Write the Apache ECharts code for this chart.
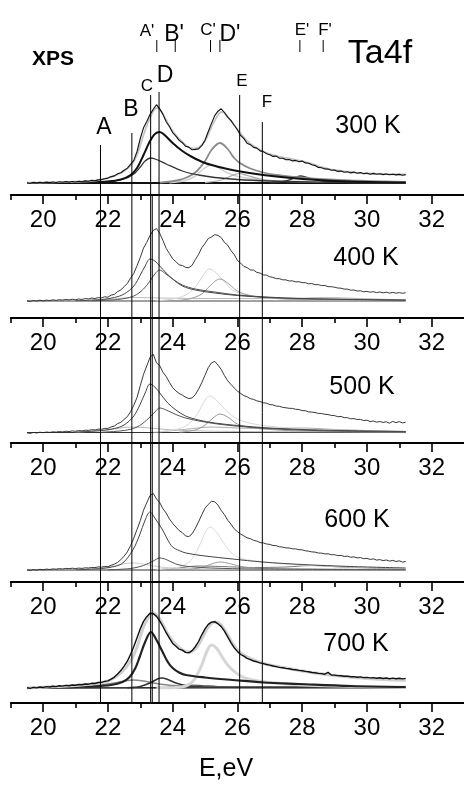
<!DOCTYPE html>
<html>
<head>
<meta charset="utf-8">
<title>XPS Ta4f</title>
<script src="https://cdn.jsdelivr.net/npm/echarts@6/dist/echarts.min.js"></script>
<style>
html,body{margin:0;padding:0;background:#fff}
#chart{width:464px;height:785px}
</style>
</head>
<body>
<div id="chart"></div>
<script>
// measured spectra, 0.1 eV steps from 19.5 eV, height above each panel axis
var eStart = 19.5, eStep = 0.1;
var raw300 = [12.3,11.8,12.6,12.1,12.8,
  12.2,12.9,12.4,13.0,12.5,13.2,12.7,13.4,12.9,13.5,
  13.0,13.8,13.3,14.1,13.7,14.6,14.2,15.1,15.4,16.3,
  16.9,18.4,19.1,21.2,22.3,24.8,26.9,30.7,34.6,43.5,
  56.5,67.2,73.6,80.4,85.7,90.3,86.1,80.6,73.2,68.5,
  62.4,58.9,54.6,52.3,48.7,47.9,45.2,45.6,46.1,49.4,
  54.7,63.5,71.6,79.4,83.8,86.2,82.5,77.9,74.6,69.8,
  65.3,59.6,56.4,51.7,50.3,47.6,46.9,44.1,43.4,41.2,
  40.3,38.6,38.9,36.8,36.7,35.2,35.4,34.1,34.6,33.2,
  33.9,32.1,31.8,30.2,29.4,27.6,27.3,26.1,25.9,24.7,
  24.9,23.6,23.9,22.8,23.3,22.1,22.9,21.7,22.4,21.3,
  21.9,20.8,21.6,20.7,21.2,20.4,21.0,20.2,20.8,20.1,
  20.6,19.8,20.4];
var raw400 = [17.2,16.6,17.5,17.0,17.8,
  17.1,17.9,17.4,18.2,17.6,18.3,17.9,18.6,18.1,18.8,
  18.3,19.0,18.6,19.4,19.1,19.9,19.5,20.4,20.1,21.2,
  20.8,22.9,23.6,26.4,28.1,31.3,34.6,39.9,44.6,52.4,
  60.6,69.9,75.7,82.4,87.6,89.4,84.7,77.5,69.6,64.4,
  59.1,56.4,53.1,52.5,50.6,50.3,52.7,58.4,63.6,70.3,
  74.6,79.5,81.1,83.4,82.6,80.4,75.6,72.8,67.5,63.4,
  57.6,54.9,51.6,50.4,48.1,47.9,45.6,44.9,43.1,42.8,
  41.2,40.6,39.4,39.3,38.2,38.1,37.0,37.2,36.1,36.3,
  35.4,35.3,34.2,34.4,33.3,33.4,32.4,32.5,31.4,31.3,
  30.8,30.0,29.8,28.9,28.9,27.8,28.0,27.0,27.2,26.2,
  26.6,25.8,26.3,25.4,26.0,25.2,25.8,24.9,25.6,24.8,
  25.4,24.7,25.3];
var raw500 = [10.2,9.6,10.5,10.0,10.8,
  10.3,11.0,10.6,11.2,10.9,11.5,11.1,11.8,11.4,12.1,
  11.7,12.4,12.1,12.8,12.6,13.3,13.0,13.9,13.7,14.6,
  14.6,16.1,17.0,19.4,20.7,23.6,26.4,31.2,37.8,45.6,
  57.4,68.6,77.1,85.6,88.9,80.2,77.4,70.8,66.5,60.6,
  55.3,52.1,49.6,47.9,45.8,44.4,45.1,48.3,53.7,60.4,
  67.8,75.4,80.1,81.6,77.9,73.6,67.4,62.3,58.6,55.1,
  51.9,49.6,47.4,46.2,44.3,43.6,42.1,41.5,40.2,39.8,
  38.4,38.1,36.9,36.7,35.6,35.2,34.7,34.6,33.7,33.5,
  32.4,32.3,31.1,30.9,30.4,29.6,29.5,28.7,28.4,27.6,
  27.4,26.3,26.5,25.4,25.3,24.2,24.4,23.5,23.6,22.4,
  22.8,21.5,22.0,20.9,21.4,20.6,21.2,19.8,21.6,20.3,
  21.4,20.1,20.8];
var raw600 = [12.1,11.6,12.4,11.9,12.7,
  12.2,12.9,12.5,13.1,12.8,13.4,13.0,13.6,13.3,13.8,
  13.4,13.9,13.6,14.2,14.0,14.5,14.4,15.1,14.9,15.6,
  15.2,16.8,17.9,19.6,22.4,25.8,30.1,36.4,43.9,52.6,
  61.4,71.8,79.2,86.5,88.6,83.1,79.4,73.2,68.9,63.1,
  58.6,55.0,51.4,49.3,46.0,45.4,48.2,53.6,60.1,67.3,
  73.8,77.6,80.8,80.2,76.9,71.6,67.3,61.8,57.9,53.2,
  50.4,47.9,46.1,44.2,43.3,41.7,40.9,39.4,39.1,38.0,
  37.6,36.5,36.3,35.2,34.9,34.1,34.0,33.2,33.1,32.3,
  32.2,31.2,30.8,30.1,29.9,29.0,28.9,28.1,28.2,27.3,
  27.3,26.4,26.6,25.6,25.8,24.8,25.1,24.1,24.4,23.3,
  23.6,22.6,23.1,21.9,22.4,21.4,22.0,20.9,21.6,20.5,
  21.2,19.9,20.6];
var raw700 = [15.3,14.6,15.6,15.1,16.0,
  15.5,16.4,16.0,16.8,16.4,17.2,16.9,17.6,17.3,18.0,
  17.7,18.5,18.2,19.0,18.8,19.7,19.5,20.5,20.6,21.6,
  22.1,23.8,25.9,29.0,32.4,36.9,41.8,48.6,56.4,65.3,
  74.2,81.6,86.3,89.8,89.4,86.6,82.1,76.5,70.3,64.8,
  59.6,56.7,53.8,52.9,50.6,50.2,52.4,56.3,61.5,68.2,
  74.1,78.6,80.9,81.3,79.2,76.4,71.8,66.1,60.4,55.3,
  51.6,48.5,46.8,44.6,43.4,42.0,41.2,40.1,39.4,38.5,
  37.9,37.0,36.4,35.6,35.3,34.6,34.2,33.5,33.2,32.6,
  32.2,31.6,31.2,30.5,30.3,29.6,29.4,28.8,30.6,28.0,
  27.9,27.4,27.3,26.8,26.9,26.3,26.4,25.8,26.1,25.4,
  25.6,25.1,25.4,24.8,25.2,24.5,25.0,24.3,24.9,24.2,
  24.7,24.1,24.6];

// fitted envelopes [E, h]
var fit300 = [[19.5,12.3],[20.5,12.8],[21.5,14],[22,16.8],[22.4,22],[22.7,29],[22.9,40],[23.1,60],[23.3,77],[23.5,87],[23.6,86],[23.8,75],[24,64],[24.3,53],[24.6,46.5],[24.8,47.5],[25,54],[25.2,68],[25.4,80],[25.5,83],[25.6,82],[25.8,74],[26,66],[26.3,54],[26.6,47],[27,41],[27.5,37],[28,34],[28.5,29],[29,25],[29.5,23],[30,21.5],[31.2,20.5]];
var fit700 = [[19.5,15],[20.5,16.5],[21.5,19],[22,22],[22.4,30],[22.7,42],[22.9,56],[23.1,76],[23.3,88],[23.4,90],[23.6,84],[23.8,72],[24,62],[24.3,53],[24.5,51],[24.7,54],[24.9,64],[25.1,76],[25.3,81],[25.5,78],[25.7,68],[25.9,57],[26.1,50],[26.5,43],[27,38],[27.5,35],[28,32],[29,27.5],[30,24.5],[31.2,22.5]];

// fitted components [E, h]
var c300D = [[21.0,12.2],[22.0,13.5],[22.4,15.5],[22.7,20],[22.9,27],[23.1,40],[23.3,54],[23.45,61],[23.6,63],[23.75,60],[24.0,52],[24.3,44],[24.6,38],[25.0,32],[25.5,27.5],[26.0,24],[26.8,20],[27.5,17.5],[28.5,15],[29.5,13.5],[31.2,12.5]];
var c300C = [[21.0,12.2],[22.0,13.5],[22.5,16],[22.8,21],[23.0,28],[23.15,34],[23.32,37],[23.5,35.5],[23.8,31],[24.3,24],[24.8,20],[25.3,17.5],[26.0,15.5],[27.0,14],[28.5,12.8],[31.2,12.2]];
var c300Dp = [[23.6,12.3],[24.2,15],[24.5,18.5],[24.75,24],[25.0,34],[25.2,45],[25.46,52],[25.7,46],[25.9,37],[26.1,31.5],[26.4,26.5],[26.8,22.5],[27.2,20],[27.8,18],[28.5,16],[29.5,14.5],[31.2,13.2]];
var c300Cp = [[23.9,12.3],[24.4,14.5],[24.7,19],[24.95,26],[25.17,30],[25.4,27.5],[25.7,22],[26.1,18],[26.7,15.5],[27.5,14],[29,13],[31.2,12.5]];
var c300E = [[25.0,12.3],[25.5,15],[25.8,19],[26.05,21.5],[26.3,19.5],[26.7,16],[27.2,14],[28,13],[31.2,12.3]];
var c300Ep = [[27.0,12.3],[27.5,14],[27.8,17.5],[27.95,19],[28.15,17.5],[28.5,14.5],[29,13],[31.2,12.3]];
var base300 = [[19.5,12],[31.2,12]];

var c400C = [[21.0,17.2],[21.8,18.5],[22.2,20.5],[22.5,24],[22.8,32],[23.0,43],[23.15,52],[23.3,59],[23.45,57],[23.6,52],[23.8,45],[24.0,39],[24.3,32],[24.7,28],[25.3,25],[26.0,22.5],[27,20.5],[28.5,19],[31.2,17.8]];
var c400D = [[21.5,17.2],[22.3,18.5],[22.8,22],[23.1,29],[23.3,37],[23.45,44],[23.6,48],[23.75,45],[24.0,39],[24.3,33],[24.7,29],[25.3,26],[26.0,23],[26.9,21],[28,19.5],[31.2,18]];
var c400Cp = [[23.5,17.2],[24.0,19],[24.4,23],[24.7,31],[24.95,43],[25.13,49],[25.35,45],[25.6,36],[25.85,28],[26.2,23.5],[26.8,20.5],[28,18.5],[31.2,17.5]];
var c400Dp = [[24.0,17.2],[24.5,19],[24.9,24],[25.15,32],[25.46,39],[25.7,35],[26.0,27],[26.4,22.5],[27,20],[28,18.5],[31.2,17.5]];
var c400Bg = [[21,17.2],[22,18.5],[22.8,20.5],[23.6,20],[24.8,19.5],[26,19.5],[27.5,19.5],[28.7,20.5],[29.8,19.5],[31.2,18]];
var base400 = [[19.5,17],[31.2,17]];

var c500C = [[21.0,10.8],[21.8,12.5],[22.2,14.5],[22.5,18],[22.8,27],[23.0,39],[23.15,50],[23.3,59],[23.45,56],[23.65,48],[23.85,40],[24.1,33],[24.4,27],[24.8,23],[25.3,20],[26.0,17.5],[27,15],[28.5,13],[31.2,11.5]];
var c500D = [[21.8,10.8],[22.5,12.5],[22.9,16],[23.2,23],[23.45,31],[23.6,35],[23.8,33],[24.1,28.5],[24.4,25],[24.9,21.5],[25.5,18.5],[26.3,16],[27.5,13.5],[29,12],[31.2,11]];
var c500Cp = [[23.4,10.8],[24.0,13],[24.4,17],[24.7,26],[24.95,40],[25.13,47],[25.35,43],[25.6,34],[25.85,27],[26.2,21.5],[26.8,17.5],[27.8,14.5],[29.5,12.5],[31.2,11.5]];
var c500Dp = [[24.2,10.8],[24.7,13],[25.0,18],[25.25,25],[25.46,29],[25.7,26],[26.0,19],[26.4,15.5],[27,13.5],[28,12],[31.2,11]];
var c500B = [[21.0,10.8],[22.0,13],[22.7,16],[23.3,15],[24.0,13],[25,12],[26,11.5],[31.2,11]];
var c500Bg = [[23.5,10.8],[24.5,14],[25.2,16],[26,15],[27,14.5],[28,15],[29,13.5],[31.2,11.5]];
var base500 = [[19.5,10.5],[31.2,10.5]];

var c600C = [[21.0,12.2],[21.8,13.5],[22.2,15.5],[22.46,19],[22.77,32],[22.98,47],[23.15,62],[23.3,70],[23.45,64],[23.69,52],[23.85,42],[24.0,35],[24.2,31.5],[24.41,29],[25.0,26],[25.85,23],[26.77,20],[28,17.5],[29.5,15.5],[31.2,14]];
var c600D = [[22.0,12.2],[22.7,13.5],[23.1,16.5],[23.4,21],[23.6,24],[23.8,22.5],[24.1,18],[24.5,15.5],[25.2,14],[26.5,13],[31.2,12.2]];
var c600B = [[21.0,12.2],[21.8,14],[22.3,17],[22.75,19],[23.2,17.5],[23.6,15],[24.3,13.5],[25.5,12.8],[31.2,12.2]];
var c600Cp = [[23.5,12.2],[24.0,14],[24.3,16],[24.6,23],[24.85,38],[25.0,49],[25.15,55],[25.35,50],[25.6,38],[25.85,28],[26.2,23],[26.6,21],[27.5,18],[29,15.5],[31.2,13.5]];
var c600Dp = [[24.4,12.2],[24.9,14.5],[25.2,18],[25.46,20],[25.75,18.5],[26.2,15],[27,13.5],[31.2,12.5]];
var c600Bg = [[23.5,12.2],[24.3,14.5],[24.8,16],[25.5,15.5],[26.5,14.5],[27.5,15],[28.3,16.5],[29.2,15],[31.2,13]];
var base600 = [[19.5,12],[31.2,12]];

var c700C = [[20.0,15.2],[21.5,16.5],[22.1,18],[22.45,21],[22.67,26],[22.85,35],[22.98,46],[23.15,61],[23.33,71],[23.5,63],[23.69,51],[23.85,41],[24.0,35],[24.2,30.5],[24.41,28],[25.0,25.5],[25.85,23],[26.8,20.5],[27.9,19],[29.5,17],[31.2,16]];
var c700Cp = [[23.5,15.2],[24.1,15.5],[24.41,17],[24.6,21],[24.72,26],[24.9,38],[25.05,51],[25.2,58],[25.35,55],[25.55,45],[25.7,38],[25.85,33],[26.1,27],[26.46,23],[27,20.5],[27.8,18.5],[29,17],[31.2,15.8]];
var c700D = [[22.6,15.2],[23.0,16.5],[23.3,20],[23.5,23.5],[23.66,25],[23.85,23.5],[24.1,20],[24.4,17.5],[24.8,16.3],[25.5,15.8],[31.2,15.5]];
var c700B = [[20.5,15.3],[21.5,17],[22.2,20],[22.6,22.5],[22.8,23],[23.1,22],[23.5,19.5],[24.0,17.5],[24.8,16.3],[26,15.8],[31.2,15.5]];
var c700Bg = [[23.6,15.2],[24.1,16.5],[24.5,18],[24.9,17.5],[25.4,16.5],[26.5,16],[31.2,15.5]];
var base700 = [[19.5,15],[31.2,15.5]];

// tick values of the energy axis
var majorTicks = [20, 22, 24, 26, 28, 30, 32];
var minorTicks = [19, 21, 23, 25, 27, 29, 31];

// peak positions marked by vertical lines, in overlay units (0 = lowest axis)
var lineNames = ['A', 'B', 'C', 'D', 'E', 'F'];
var lineE = [21.77, 22.74, 23.32, 23.58, 26.07, 26.77];
var lineTop = [558, 570, 608, 611, 608, 581];
var extraLineE = 23.37, extraLineTop = 508;   // second C line below the 300 K panel
var primeNames = ["A'", "B'", "C'", "D'", "E'", "F'"];
var primeE = [23.51, 24.08, 25.17, 25.46, 27.93, 28.65];
var primeTick = [651, 663];

var temps = ['300 K', '400 K', '500 K', '600 K', '700 K'];

var FONT = '"Liberation Sans", Arial, Helvetica, sans-serif';
var panels = [
  {top: 0, h: 195},
  {top: 195, h: 123},
  {top: 318, h: 125},
  {top: 443, h: 139},
  {top: 582, h: 121}
];
var gridLeft = 10.8, gridWidth = 455;

var energy = raw300.map(function (v, i) { return +(eStart + i * eStep).toFixed(1); });
function pairs(vals) { return vals.map(function (v, i) { return [energy[i], v]; }); }

var grids = [], xAxes = [], yAxes = [], series = [];
panels.forEach(function (p, i) {
  grids.push({left: gridLeft, width: gridWidth, top: p.top, height: p.h});
  xAxes.push({
    gridIndex: i, type: 'value', min: 19, max: 33, position: 'bottom',
    axisLine: {show: true, onZero: false, lineStyle: {color: '#000', width: 2}},
    axisTick: {show: true, customValues: majorTicks, length: 9, lineStyle: {color: '#000', width: 1.6}},
    axisLabel: {show: true, customValues: majorTicks, margin: 13, color: '#000', fontSize: 24, fontFamily: FONT},
    splitLine: {show: false}
  });
  xAxes.push({
    gridIndex: i, type: 'value', min: 19, max: 33, position: 'bottom',
    axisLine: {show: false},
    axisTick: {show: true, customValues: minorTicks, length: 5, lineStyle: {color: '#000', width: 1.6}},
    axisLabel: {show: false},
    splitLine: {show: false}
  });
  yAxes.push({gridIndex: i, type: 'value', min: 0, max: p.h, show: false, splitLine: {show: false}});
});
// overlay for the marker lines
grids.push({left: gridLeft, width: gridWidth, top: 0, height: 703});
xAxes.push({gridIndex: 5, type: 'value', min: 19, max: 33, show: false, splitLine: {show: false}});
yAxes.push({gridIndex: 5, type: 'value', min: 0, max: 703, show: false, splitLine: {show: false}});

function curve(panel, data, color, width, z, smooth) {
  return {
    type: 'line', xAxisIndex: panel * 2, yAxisIndex: panel, data: data,
    symbol: 'none', smooth: smooth === undefined ? 0.35 : smooth,
    lineStyle: {color: color, width: width}, z: z, silent: true
  };
}
function marker(e, y0, y1, width) {
  return {
    type: 'line', xAxisIndex: 10, yAxisIndex: 5, data: [[e, y0], [e, y1]],
    symbol: 'none', lineStyle: {color: '#000', width: width}, z: 20, silent: true
  };
}

// 300 K
series.push(curve(0, base300, '#111', 2, 2, false));
series.push(curve(0, c300Cp, '#d2d2d2', 1.5, 3));
series.push(curve(0, c300E, '#a8a8a8', 1.2, 3));
series.push(curve(0, c300Ep, '#333', 1.3, 3));
series.push(curve(0, c300Dp, '#8a8a8a', 1.8, 4));
series.push(curve(0, c300C, '#333', 1.3, 4));
series.push(curve(0, c300D, '#111', 2, 5));
series.push(curve(0, fit300, '#c4c4c4', 1.8, 6));
series.push(curve(0, pairs(raw300), '#111', 1.1, 7, false));
// 400 K
series.push(curve(1, base400, '#444', 1, 2, false));
series.push(curve(1, c400Bg, '#bbb', 1, 3));
series.push(curve(1, c400Cp, '#d4d4d4', 1, 3));
series.push(curve(1, c400Dp, '#999', 1, 3));
series.push(curve(1, c400D, '#555', 1, 4));
series.push(curve(1, c400C, '#444', 1, 4));
series.push(curve(1, pairs(raw400), '#222', 0.9, 7, false));
// 500 K
series.push(curve(2, base500, '#333', 1, 2, false));
series.push(curve(2, c500Bg, '#aaa', 1, 3));
series.push(curve(2, c500B, '#bbb', 1, 3));
series.push(curve(2, c500Cp, '#d8d8d8', 1, 3));
series.push(curve(2, c500Dp, '#999', 1, 3));
series.push(curve(2, c500D, '#555', 1, 4));
series.push(curve(2, c500C, '#444', 1, 4));
series.push(curve(2, pairs(raw500), '#222', 0.9, 7, false));
// 600 K
series.push(curve(3, base600, '#333', 1, 2, false));
series.push(curve(3, c600Bg, '#777', 1, 3));
series.push(curve(3, c600B, '#ccc', 1, 3));
series.push(curve(3, c600Cp, '#dcdcdc', 1, 3));
series.push(curve(3, c600Dp, '#999', 1, 3));
series.push(curve(3, c600D, '#555', 1, 4));
series.push(curve(3, c600C, '#444', 1, 4));
series.push(curve(3, pairs(raw600), '#222', 0.9, 7, false));
// 700 K
series.push(curve(4, base700, '#222', 1.5, 2, false));
series.push(curve(4, c700Bg, '#555', 1.2, 3));
series.push(curve(4, c700B, '#888', 1.5, 3));
series.push(curve(4, c700D, '#333', 1.6, 4));
series.push(curve(4, c700Cp, '#d6d6d6', 3, 4));
series.push(curve(4, c700C, '#222', 2.2, 5));
series.push(curve(4, fit700, '#d0d0d0', 3, 6));
series.push(curve(4, pairs(raw700), '#111', 1.4, 7, false));

// marker lines
lineE.forEach(function (e, i) { series.push(marker(e, 0, lineTop[i], 1)); });
series.push(marker(extraLineE, 0, extraLineTop, 1));
primeE.forEach(function (e) { series.push(marker(e, primeTick[0], primeTick[1], 1)); });

function txt(x, y, s, size, bold) {
  return {type: 'text', x: x, y: y, silent: true, z: 30, style: {
    text: s, fill: '#000', align: 'center', verticalAlign: 'middle',
    font: (bold ? 'bold ' : '') + size + 'px ' + FONT
  }};
}
var labelPos = [[104, 128, 23], [131, 110, 23], [147, 86, 17], [165, 76, 23], [242, 81, 17], [267, 102, 17]];
var primePos = [[147, 31, 17], [174, 35, 23], [208, 30, 17], [230, 35, 23], [302, 30, 17], [325, 30, 17]];
var tempPos = [[368, 126], [366, 258], [362, 387], [357, 520], [356, 644]];
var graphics = [
  txt(53, 59, 'XPS', 21, true),
  txt(380, 54, 'Ta4f', 34),
  txt(226, 769, 'E,eV', 25)
];
lineNames.forEach(function (n, i) { graphics.push(txt(labelPos[i][0], labelPos[i][1], n, labelPos[i][2])); });
primeNames.forEach(function (n, i) { graphics.push(txt(primePos[i][0], primePos[i][1], n, primePos[i][2])); });
temps.forEach(function (t, i) { graphics.push(txt(tempPos[i][0], tempPos[i][1], t, 25)); });

var chart = echarts.init(document.getElementById('chart'), null, {renderer: 'canvas'});
chart.setOption({
  animation: false,
  backgroundColor: '#fff',
  grid: grids,
  xAxis: xAxes,
  yAxis: yAxes,
  series: series,
  graphic: graphics
});
</script>
</body>
</html>
